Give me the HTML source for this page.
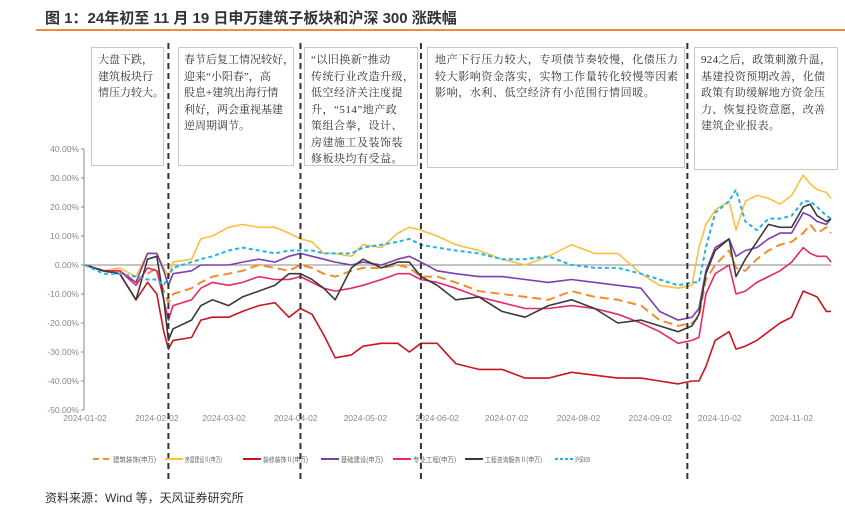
<!DOCTYPE html>
<html><head><meta charset="utf-8"><style>
body{margin:0;background:#fff;width:845px;height:507px;overflow:hidden;font-family:"Liberation Sans","Noto Sans CJK SC",sans-serif}
svg{position:absolute;left:0;top:0}
.ann{position:absolute;border:1px solid #c8c8c8;background:#fff;font-family:"Liberation Serif","Noto Serif CJK SC",serif;font-size:11px;line-height:16.5px;color:#333;padding:4px 6px;box-sizing:border-box;letter-spacing:0.8px;white-space:nowrap;overflow:hidden}
</style></head><body>
<div style="position:absolute;left:45px;top:7px;font-size:15px;font-weight:bold;color:#333">图 1：24年初至 11 月 19 日申万建筑子板块和沪深 300 涨跌幅</div>
<div style="position:absolute;left:36px;top:29px;width:809px;height:2px;background:#f08a3c"></div>
<svg id="c" width="845" height="507"></svg>
<div class="ann" style="left:91px;top:47px;width:73px;height:119px;padding-left:6px;letter-spacing:0">大盘下跌，<br>建筑板块行<br>情压力较大。</div>
<div class="ann" style="left:178px;top:47px;width:116px;height:119px;padding-left:5px;letter-spacing:0">春节后复工情况较好，<br>迎来“小阳春”，高<br>股息+建筑出海行情<br>利好，两会重视基建<br>逆周期调节。</div>
<div class="ann" style="left:304px;top:47px;width:114px;height:119px;padding-left:6px;letter-spacing:0.5px">“以旧换新”推动<br>传统行业改造升级，<br>低空经济关注度提<br>升，“514”地产政<br>策组合拳，设计、<br>房建施工及装饰装<br>修板块均有受益。</div>
<div class="ann" style="left:427px;top:47px;width:258px;height:121px;padding-left:7px;letter-spacing:0.6px">地产下行压力较大，专项债节奏较慢，化债压力<br>较大影响资金落实，实物工作量转化较慢等因素<br>影响，水利、低空经济有小范围行情回暖。</div>
<div class="ann" style="left:694px;top:47px;width:144px;height:123px;padding-left:6px;letter-spacing:0.3px">924之后，政策刺激升温，<br>基建投资预期改善，化债<br>政策有助缓解地方资金压<br>力、恢复投资意愿，改善<br>建筑企业报表。</div>
<div style="position:absolute;left:45px;top:489px;font-size:12px;color:#333">资料来源：Wind 等，天风证券研究所</div>
<script>
const days=[0,8,15,22,27,31,34,36,38,46,50,55,62,68,75,82,88,93,98,103,108,115,120,128,135,140,145,152,160,170,180,190,200,210,220,230,240,248,256,262,265,268,272,278,281,285,290,295,300,305,310,313,316,320,322];
const yTicks=[40,30,20,10,0,-10,-20,-30,-40,-50];
const xLabels=["2024-01-02","2024-02-02","2024-03-02","2024-04-02","2024-05-02","2024-06-02","2024-07-02","2024-08-02","2024-09-02","2024-10-02","2024-11-02"];
const xLabelDays=[0,31,60,91,121,152,182,213,244,274,305];
const eventDays=[36,93,145,260];
const names=["建筑装饰(申万)","房屋建设Ⅱ(申万)","装修装饰Ⅱ(申万)","基础建设(申万)","专业工程(申万)","工程咨询服务Ⅱ(申万)","沪深300"];
const jzzs=[0,-2,-2,-6,-3,-1,-9,-13,-10,-8,-6,-4,-3,-2,0,-1,-2,0,-1,-3,-4,-2,-1,-1,0,-1,-4,-4,-6,-9,-10,-11,-12,-9,-11,-12,-14,-19,-21,-20,-18,-5,0,5,-1,-2,2,5,7,8,11,14,11,13,11];
const fwjs=[0,-2,-1,-4,4,4,-1,-4,1,2,9,10,13,14,13,13,11,9,8,4,4,3,7,6,11,13,12,10,7,5,2,0,3,7,4,4,-3,-7,-8,-7,6,14,19,22,12,22,24,23,21,24,31,28,26,25,23];
const zxzs=[0,-2,-3,-12,-6,-10,-23,-29,-26,-25,-19,-18,-18,-16,-14,-13,-18,-15,-17,-24,-32,-31,-28,-27,-27,-30,-27,-27,-34,-36,-36,-39,-39,-37,-38,-39,-39,-40,-41,-40,-40,-35,-26,-23,-29,-28,-26,-23,-20,-18,-9,-10,-11,-16,-16];
const jcjs=[0,-2,-2,-6,4,4,-2,-7,-3,-2,0,0,0,1,2,1,3,4,3,2,1,0,1,0,2,3,1,-2,-3,-4,-4,-5,-6,-5,-6,-7,-8,-16,-19,-18,-15,-2,6,9,3,5,6,9,11,11,18,17,15,14,16];
const zygc=[0,-2,-2,-7,-1,-2,-12,-19,-14,-12,-8,-6,-7,-6,-4,-5,-5,-4,-6,-8,-9,-8,-7,-5,-3,-3,-5,-6,-8,-11,-13,-15,-15,-14,-15,-17,-20,-23,-27,-26,-25,-10,-3,0,-10,-9,-6,-4,-2,1,6,4,3,3,1];
const gczx=[0,-2,-3,-12,2,3,-12,-26,-22,-19,-14,-12,-14,-11,-9,-7,-3,-3,-5,-8,-12,-1,2,-1,1,1,-4,-7,-12,-11,-16,-18,-14,-12,-15,-20,-19,-21,-23,-21,-17,-3,5,9,-4,2,8,14,13,13,20,21,17,15,16];
const hs300=[0,-3,-3,-4,-5,-5,-7,-4,-1,1,2,3,5,6,5,4,5,5,5,4,4,4,6,7,8,9,7,6,5,4,2,2,3,0,-1,-1,-3,-5,-7,-6,-6,6,18,22,26,15,12,16,16,17,22,22,20,17,16];
const seriesList=[jzzs,fwjs,zxzs,jcjs,zygc,gczx,hs300];
const colors=["#f58a2e","#fcc03e","#c8161d","#7b3fb0","#e8286a","#3a3a3a","#1eb4ee"];
const dashes=["9,5","","","","","","4,3"];
const NS="http://www.w3.org/2000/svg",svg=document.getElementById('c');
const X0=85,X1=831,D1=322,Y40=149,Ym50=410;
const xs=d=>X0+d*(X1-X0)/D1, ys=v=>Y40+(40-v)*(Ym50-Y40)/90;
function el(t,a,p){const e=document.createElementNS(NS,t);for(const k in a)e.setAttribute(k,a[k]);(p||svg).appendChild(e);return e;}
let e=el('line',{x1:X0-1,y1:Y40,x2:X0-1,y2:Ym50,stroke:'#888','stroke-width':1});

yTicks.forEach(v=>{el('line',{x1:X0-4,x2:X0-1,y1:ys(v),y2:ys(v),stroke:'#888'});
 const t=el('text',{x:X0-6,y:ys(v)+3,'text-anchor':'end','font-size':8.5,fill:'#888'});t.textContent=v.toFixed(2)+'%';
 });
e=el('line',{x1:X0,x2:X1,y1:ys(0),y2:ys(0),stroke:'#888','stroke-width':1});

xLabelDays.forEach((d,i)=>{const t=el('text',{x:xs(d),y:421,'text-anchor':'middle','font-size':8.5,fill:'#888'});t.textContent=xLabels[i];
 });
seriesList.forEach((s,i)=>{const p=el('polyline',{points:s.map((v,j)=>xs(days[j])+','+ys(v)).join(' '),fill:'none',stroke:colors[i],'stroke-width':dashes[i]?2:1.6,'stroke-dasharray':dashes[i],'stroke-linejoin':'round'});
 });
eventDays.forEach(d=>{const l=el('line',{x1:xs(d),x2:xs(d),y1:43,y2:480,stroke:'#333','stroke-width':2,'stroke-dasharray':'6,4'});
 });
const lx=[93,165,243,321,393,465,555];
const lw=[43,37,45,42,43,57,15];
names.forEach((n,i)=>{const y=459;
 const l=el('line',{x1:lx[i],x2:lx[i]+18,y1:y,y2:y,stroke:colors[i],'stroke-width':2,'stroke-dasharray':dashes[i]?(i==0?'6,4':'3,2'):''});
 
 const t=el('text',{x:lx[i]+20,y:y+3,'font-size':7,fill:'#666',textLength:lw[i],lengthAdjust:'spacingAndGlyphs'});t.textContent=n;
 });
</script>
</body></html>
